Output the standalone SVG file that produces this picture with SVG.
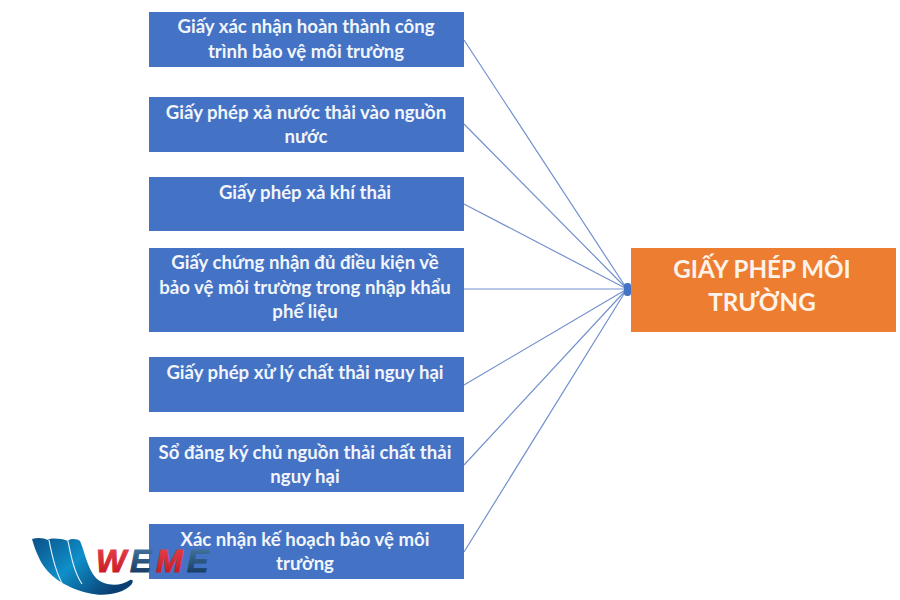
<svg xmlns="http://www.w3.org/2000/svg" width="900" height="600" viewBox="0 0 900 600">
<defs>
<style>
.b{fill:#4472c4}
.o{fill:#ed7d31}
.t{font-family:"Lato","Open Sans","Liberation Sans",sans-serif;font-weight:700;font-size:18.6px;fill:#f2f5fb;text-anchor:middle}
.h{font-family:"Lato","Open Sans","Liberation Sans",sans-serif;font-weight:700;font-size:24.2px;fill:#fdf3ea;text-anchor:middle}
.c{stroke:#7391cf;stroke-width:1.2;fill:none}
.w{font-family:"Liberation Sans",sans-serif;font-weight:700;font-style:italic;font-size:32px;letter-spacing:1.5px;stroke-width:1}
.s{fill:none;stroke:#dff1fa;stroke-width:1.2}
</style>
<linearGradient id="wave" x1="0" y1="0" x2="1" y2="0.6"><stop offset="0" stop-color="#0b4f86"/><stop offset="0.5" stop-color="#0f8fc9"/><stop offset="1" stop-color="#0a3f73"/></linearGradient>
<linearGradient id="red" x1="0" y1="0" x2="0" y2="1"><stop offset="0" stop-color="#e8454d"/><stop offset="1" stop-color="#c4121d"/></linearGradient>
<linearGradient id="navy" x1="0" y1="0" x2="0" y2="1"><stop offset="0" stop-color="#4b7fa8"/><stop offset="1" stop-color="#0d2f56"/></linearGradient>
</defs>
<rect width="900" height="600" fill="#fff"/>
<g id="connectors">
<path class="c" d="M464 40L627 289M464 124L627 289M464 204L627 289M464 289H627M464 385L627 289M464 465L627 289M464 552L627 289"/>
<rect x="624" y="283" width="7" height="13" rx="3" fill="#4472c4"/>
</g>
<g id="n1"><rect class="b" x="149" y="12" width="315" height="55"/><text class="t" x="306" y="33">Giấy xác nhận hoàn thành công</text><text class="t" x="306" y="58">trình bảo vệ môi trường</text></g>
<g id="n2"><rect class="b" x="149" y="97" width="315" height="55"/><text class="t" x="306" y="119">Giấy phép xả nước thải vào nguồn</text><text class="t" x="306" y="143">nước</text></g>
<g id="n3"><rect class="b" x="149" y="177" width="315" height="54"/><text class="t" x="305" y="199">Giấy phép xả khí thải</text></g>
<g id="n4"><rect class="b" x="149" y="248" width="315" height="84"/><text class="t" x="305" y="269">Giấy chứng nhận đủ điều kiện về</text><text class="t" x="305" y="294">bảo vệ môi trường trong nhập khẩu</text><text class="t" x="305" y="318">phế liệu</text></g>
<g id="n5"><rect class="b" x="149" y="357" width="315" height="55"/><text class="t" x="305" y="379">Giấy phép xử lý chất thải nguy hại</text></g>
<g id="n6"><rect class="b" x="149" y="437" width="315" height="55"/><text class="t" x="305" y="459">Sổ đăng ký chủ nguồn thải chất thải</text><text class="t" x="305" y="483">nguy hại</text></g>
<g id="n7"><rect class="b" x="149" y="524" width="315" height="55"/><text class="t" x="305" y="546">Xác nhận kế hoạch bảo vệ môi</text><text class="t" x="305" y="570">trường</text></g>
<g id="target"><rect class="o" x="631" y="248" width="265" height="84"/><text class="h" x="762" y="278">GIẤY PHÉP MÔI</text><text class="h" x="762" y="311">TRƯỜNG</text></g>
<g id="logo">
<path fill="url(#wave)" d="M32 539C38 537 44 538 48 540C50 538 60 538 68 541C70 538 78 539 80 541C85 552 87 568 96 578C104 586 120 587 130 580C134 579 133 583 131 585C122 594 104 597 88 593C66 588 48 576 40 560C36 552 34 546 32 539Z"/>
<path class="s" d="M49 540C52 556 56 573 63 585"/>
<path class="s" d="M68 541C71 556 74 572 82 584"/>
<text class="w" x="96" y="572" fill="url(#red)" stroke="url(#red)">W</text>
<text class="w" x="130" y="572" fill="url(#navy)" stroke="url(#navy)">E</text>
<text class="w" x="156" y="572" fill="url(#red)" stroke="url(#red)">M</text>
<text class="w" x="187" y="572" fill="url(#navy)" stroke="url(#navy)">E</text>
</g>
</svg>
